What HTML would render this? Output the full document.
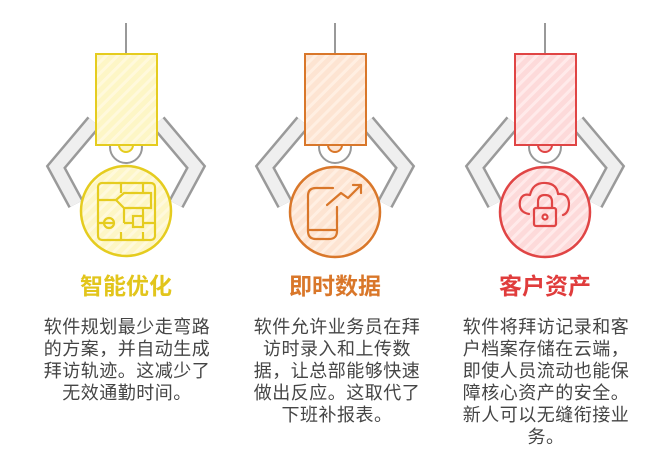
<!DOCTYPE html>
<html><head><meta charset="utf-8"><style>
body{margin:0;width:664px;height:473px;background:#fff;overflow:hidden;position:relative;font-family:"Liberation Sans","Noto Sans CJK SC",sans-serif}
svg{position:absolute;left:0;top:0}
.t{position:absolute;width:200px;text-align:center;font-size:23px;top:271px;line-height:30px;font-weight:bold}
.b{position:absolute;width:210px;text-align:center;font-size:18px;letter-spacing:0.5px;line-height:22px;color:#454545;top:316px}
</style></head><body>
<svg width="664" height="473" viewBox="0 0 664 473">
<defs>
<pattern id="py" width="8" height="8" patternUnits="userSpaceOnUse" patternTransform="rotate(45)"><rect width="8" height="8" fill="#fdf6c6"/><rect width="3" height="8" fill="#fff9dc"/></pattern>
<pattern id="po" width="8" height="8" patternUnits="userSpaceOnUse" patternTransform="rotate(45)"><rect width="8" height="8" fill="#fde4d2"/><rect width="3" height="8" fill="#ffefe2"/></pattern>
<pattern id="pr" width="8" height="8" patternUnits="userSpaceOnUse" patternTransform="rotate(45)"><rect width="8" height="8" fill="#fddada"/><rect width="3" height="8" fill="#ffeaea"/></pattern>
<g id="arms">
<line x1="0" y1="23" x2="0" y2="54" stroke="#999" stroke-width="2"/>
<path d="M-32,122 L-70,167 L-50,204 M32,122 L70,167 L50,204" fill="none" stroke="#9a9a9a" stroke-width="17" stroke-linejoin="miter"/>
<path d="M-32,122 L-70,167 L-50,204 M32,122 L70,167 L50,204" fill="none" stroke="#efefef" stroke-width="12" stroke-linejoin="miter"/>
<circle cx="0" cy="147" r="16" fill="#fff" stroke="#999" stroke-width="2"/>
</g>
</defs>
<g transform="translate(126,0)">
<use href="#arms"/>
<path d="M-7,145 A7,7 0 0 0 7,145" fill="#fdf6c6" stroke="#e5cc1f" stroke-width="2"/>
<rect x="-30" y="54" width="61" height="91" fill="url(#py)" stroke="#e5cc1f" stroke-width="2"/>
<circle cx="0" cy="211" r="45" fill="url(#py)" stroke="#e5cc1f" stroke-width="2.5"/>
<g fill="none" stroke="#e5cc1f" stroke-width="2.2">
<rect x="-28" y="183" width="57" height="57" rx="4"/>
<path d="M-28,200 H-10 L-2,193 H25 V208 H-2 L-10,200 M-2,208 V223 M-12,223 H-28 M-2,223 H7 M17,223 H29 M-5,183 V193 M17,183 V193 M17,208 V215 M-5,232 V240 M17,232 V240"/>
<circle cx="-17" cy="223" r="5"/>
<rect x="7" y="216" width="10" height="11"/>
</g>
</g>
<g transform="translate(335,0)">
<use href="#arms"/>
<path d="M-7,145 A7,7 0 0 0 7,145" fill="#fde4d2" stroke="#d9772a" stroke-width="2"/>
<rect x="-30" y="54" width="61" height="91" fill="url(#po)" stroke="#d9772a" stroke-width="2"/>
<circle cx="0" cy="212" r="45" fill="url(#po)" stroke="#d9772a" stroke-width="2.5"/>
<g fill="none" stroke="#d9772a" stroke-width="2.2" stroke-linecap="round" stroke-linejoin="round">
<path d="M-2,188 H-19 Q-27,188 -27,196 V231 Q-27,239 -19,239 H-6 Q2,239 2,231 V207"/>
<path d="M-27,230 H2 M-8,205 L6,193 L13,198 L26,185 M18,185 H26 V193"/>
</g>
</g>
<g transform="translate(545,0)">
<use href="#arms"/>
<path d="M-7,145 A7,7 0 0 0 7,145" fill="#fddada" stroke="#e04545" stroke-width="2"/>
<rect x="-30" y="54" width="61" height="91" fill="url(#pr)" stroke="#e04545" stroke-width="2"/>
<circle cx="0" cy="212" r="45" fill="url(#pr)" stroke="#e04545" stroke-width="2.5"/>
<g fill="none" stroke="#e04545" stroke-width="2.2" stroke-linecap="round" stroke-linejoin="round">
<path d="M-16,214 Q-27,212 -25,201 Q-23,193 -15,195 Q-12,182 1,183 Q12,184 13,194 Q23,193 24,203 Q24,213 18,215"/>
<rect x="-11" y="208" width="22" height="18" rx="2"/>
<path d="M-7,208 V202 Q-7,195 0,195 Q7,195 7,202 V208"/>
<circle cx="0" cy="217" r="2.5"/>
</g>
</g>
</svg>
<div class="t" style="left:26px;color:#e2c51c">智能优化</div>
<div class="t" style="left:235px;color:#d9772a">即时数据</div>
<div class="t" style="left:445px;color:#e03c3c">客户资产</div>
<div class="b" style="left:22px">软件规划最少走弯路<br>的方案，并自动生成<br>拜访轨迹。这减少了<br>无效通勤时间。</div>
<div class="b" style="left:232px">软件允许业务员在拜<br>访时录入和上传数<br>据，让总部能够快速<br>做出反应。这取代了<br>下班补报表。</div>
<div class="b" style="left:441px">软件将拜访记录和客<br>户档案存储在云端，<br>即使人员流动也能保<br>障核心资产的安全。<br>新人可以无缝衔接业<br>务。</div>
</body></html>
